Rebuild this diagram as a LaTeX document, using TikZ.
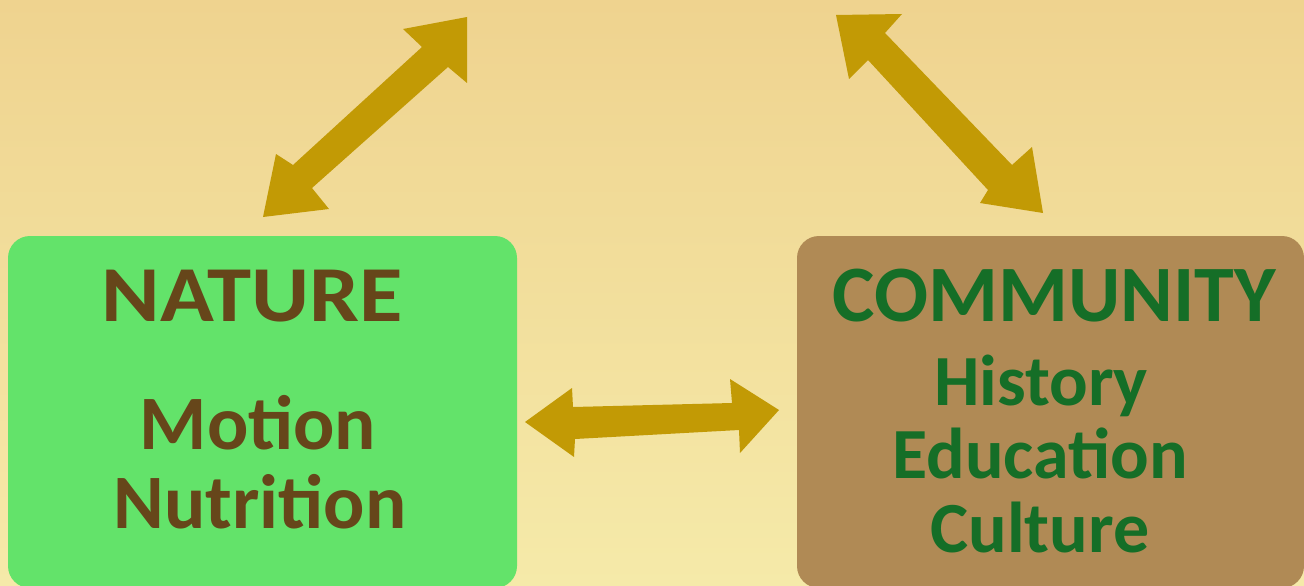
\documentclass[tikz,border=0pt]{standalone}
\usepackage{fontspec}
\setmainfont{Carlito}
\definecolor{bgtop}{HTML}{EFD38F}
\definecolor{bgbot}{HTML}{F5EAA9}
\definecolor{natgreen}{HTML}{63E36A}
\definecolor{combrown}{HTML}{B08A55}
\definecolor{nattext}{HTML}{66461A}
\definecolor{comtext}{HTML}{156E27}
\definecolor{arrowgold}{HTML}{C29A05}
\begin{document}
\begin{tikzpicture}[x=1pt,y=-1pt,
  boxstyle/.style={draw=none, rounded corners=22pt, inner sep=0pt},
  arrowshape/.style={fill=arrowgold, draw=none},
  nattxt/.style={text=nattext, font=\bfseries\fontsize{77}{77}\selectfont, anchor=base, inner sep=0pt},
  comtxt/.style={text=comtext, font=\bfseries\fontsize{72}{72}\selectfont, anchor=base, inner sep=0pt}]
\useasboundingbox (0,0) rectangle (1304,586);
\shade[top color=bgtop, bottom color=bgbot] (0,0) rectangle (1304,586);
% boxes
\node[boxstyle, fill=natgreen, minimum width=509pt, minimum height=352pt] (nature) at (262.5,412) {};
\node[boxstyle, fill=combrown, minimum width=507pt, minimum height=352pt] (community) at (1050.5,412) {};
% texts
\node[nattxt] (t1) at (252,321) {\resizebox{301pt}{51.4pt}{NATURE}};
\node[nattxt] (t2) at (258,449) {Motion};
\node[nattxt] (t3) at (260,528) {Nutrition};
\node[comtxt, font=\bfseries\fontsize{80}{80}\selectfont] (c1) at (1054,321) {COMMUNITY};
\node[comtxt] (c2) at (1041,405) {History};
\node[comtxt] (c3) at (1040,478) {Education};
\node[comtxt] (c4) at (1040,552) {Culture};
% arrows
\fill[arrowshape] (467,17) -- (467,83) -- (448,67) -- (312,188) -- (329,209) -- (263,217)
  -- (276,154) -- (293,165) -- (422,47) -- (403,29) -- cycle;
\fill[arrowshape] (836,15) -- (902,14) -- (885,33) -- (1012,165) -- (1032,147) -- (1043,213)
  -- (980,203) -- (988,190) -- (868,60) -- (849,79) -- cycle;
\fill[arrowshape] (525,422) -- (572,388) -- (573,407) -- (732,403) -- (730,379) -- (779,410)
  -- (740,453) -- (739,430) -- (575,439) -- (574,457) -- cycle;
\end{tikzpicture}
\end{document}
